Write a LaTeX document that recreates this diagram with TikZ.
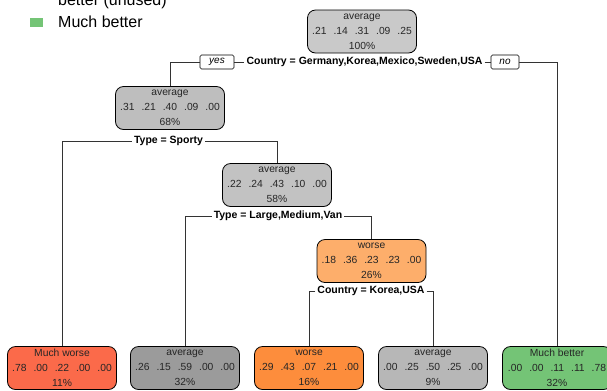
\documentclass[tikz,border=0pt]{standalone}
\usepackage{fontspec}
\setmainfont{Liberation Sans}
\definecolor{cRoot}{HTML}{C9C9C9}
\definecolor{cA68}{HTML}{BEBEBE}
\definecolor{cA58}{HTML}{C2C2C2}
\definecolor{cA32}{HTML}{9B9B9B}
\definecolor{cA9}{HTML}{B7B7B7}
\definecolor{cW26}{HTML}{FDAE6B}
\definecolor{cW16}{HTML}{FD8D3C}
\definecolor{cMW}{HTML}{FB6A4A}
\definecolor{cMB}{HTML}{74C476}
\definecolor{cLine}{HTML}{333333}
\newcommand{\gp}{\hspace{7bp}}
\newcommand{\rows}[3]{#1\\#2\\#3}
\tikzset{
  tree/.style={draw=black, line width=0.8bp, rounded corners=8bp, minimum width=109bp, minimum height=43bp, inner sep=0pt, align=center, font=\fontsize{10.3bp}{14.8bp}\selectfont, text=black!85},
  splitlbl/.style={inner sep=2bp, font=\fontsize{10.5bp}{12bp}\selectfont\bfseries},
  yn/.style={draw=black, line width=0.6bp, rounded corners=1.5bp, fill=white, inner sep=0pt, minimum height=14bp, font=\fontsize{10bp}{12bp}\selectfont\itshape},
  conn/.style={draw=cLine, line width=0.9bp},
  legtxt/.style={anchor=base west, inner sep=0pt, font=\fontsize{16bp}{18bp}\selectfont}
}
\begin{document}
\begin{tikzpicture}[x=1bp,y=-1bp]
\useasboundingbox (0,0) rectangle (607,390);
\clip (0,0) rectangle (607,390);
% legend
\node[legtxt] (lg1) at (58,5) {better (unused)};
\node[legtxt] (lg2) at (58,27) {Much better};
\fill[cMB] (30,18) rectangle (43,27);
% internal nodes
\node[tree, fill=cRoot] (root) at (362,31.5) {\rows{average}{.21\gp.14\gp.31\gp.09\gp.25}{100\%}};
\node[tree, fill=cA68] (n68) at (170,108) {\rows{average}{.31\gp.21\gp.40\gp.09\gp.00}{68\%}};
\node[tree, fill=cA58] (n58) at (277,185) {\rows{average}{.22\gp.24\gp.43\gp.10\gp.00}{58\%}};
\node[tree, fill=cW26] (n26) at (371.5,261) {\rows{worse}{.18\gp.36\gp.23\gp.23\gp.00}{26\%}};
% leaves
\node[tree, fill=cMW] (l1) at (62,368) {\rows{Much worse}{.78\gp.00\gp.22\gp.00\gp.00}{11\%}};
\node[tree, fill=cA32] (l2) at (185,368) {\rows{average}{.26\gp.15\gp.59\gp.00\gp.00}{32\%}};
\node[tree, fill=cW16] (l3) at (309,368) {\rows{worse}{.29\gp.43\gp.07\gp.21\gp.00}{16\%}};
\node[tree, fill=cA9] (l4) at (433,368) {\rows{average}{.00\gp.25\gp.50\gp.25\gp.00}{9\%}};
\node[tree, fill=cMB] (l5) at (557,368) {\rows{Much better}{.00\gp.00\gp.11\gp.11\gp.78}{32\%}};
% split labels
\node[splitlbl] (s1) at (364.5,62) {Country = Germany,Korea,Mexico,Sweden,USA};
\node[yn, minimum width=34bp] (yes) at (217,62) {yes};
\node[yn, minimum width=28bp] (no) at (505,62) {no};
\node[splitlbl] (s2) at (168.5,141) {Type = Sporty};
\node[splitlbl] (s3) at (278,216) {Type = Large,Medium,Van};
\node[splitlbl] (s4) at (371,291) {Country = Korea,USA};
% connectors
\draw[conn] (yes.west) -| (n68.north);
\draw[conn] (yes.east) -- (s1.west);
\draw[conn] (s1.east) -- (no.west);
\draw[conn] (no.east) -| (l5.north);
\draw[conn] (s2.west) -| (l1.north);
\draw[conn] (s2.east) -| (n58.north);
\draw[conn] (s3.west) -| (l2.north);
\draw[conn] (s3.east) -| (n26.north);
\draw[conn] (s4.west) -| (l3.north);
\draw[conn] (s4.east) -| (l4.north);
\end{tikzpicture}
\end{document}
